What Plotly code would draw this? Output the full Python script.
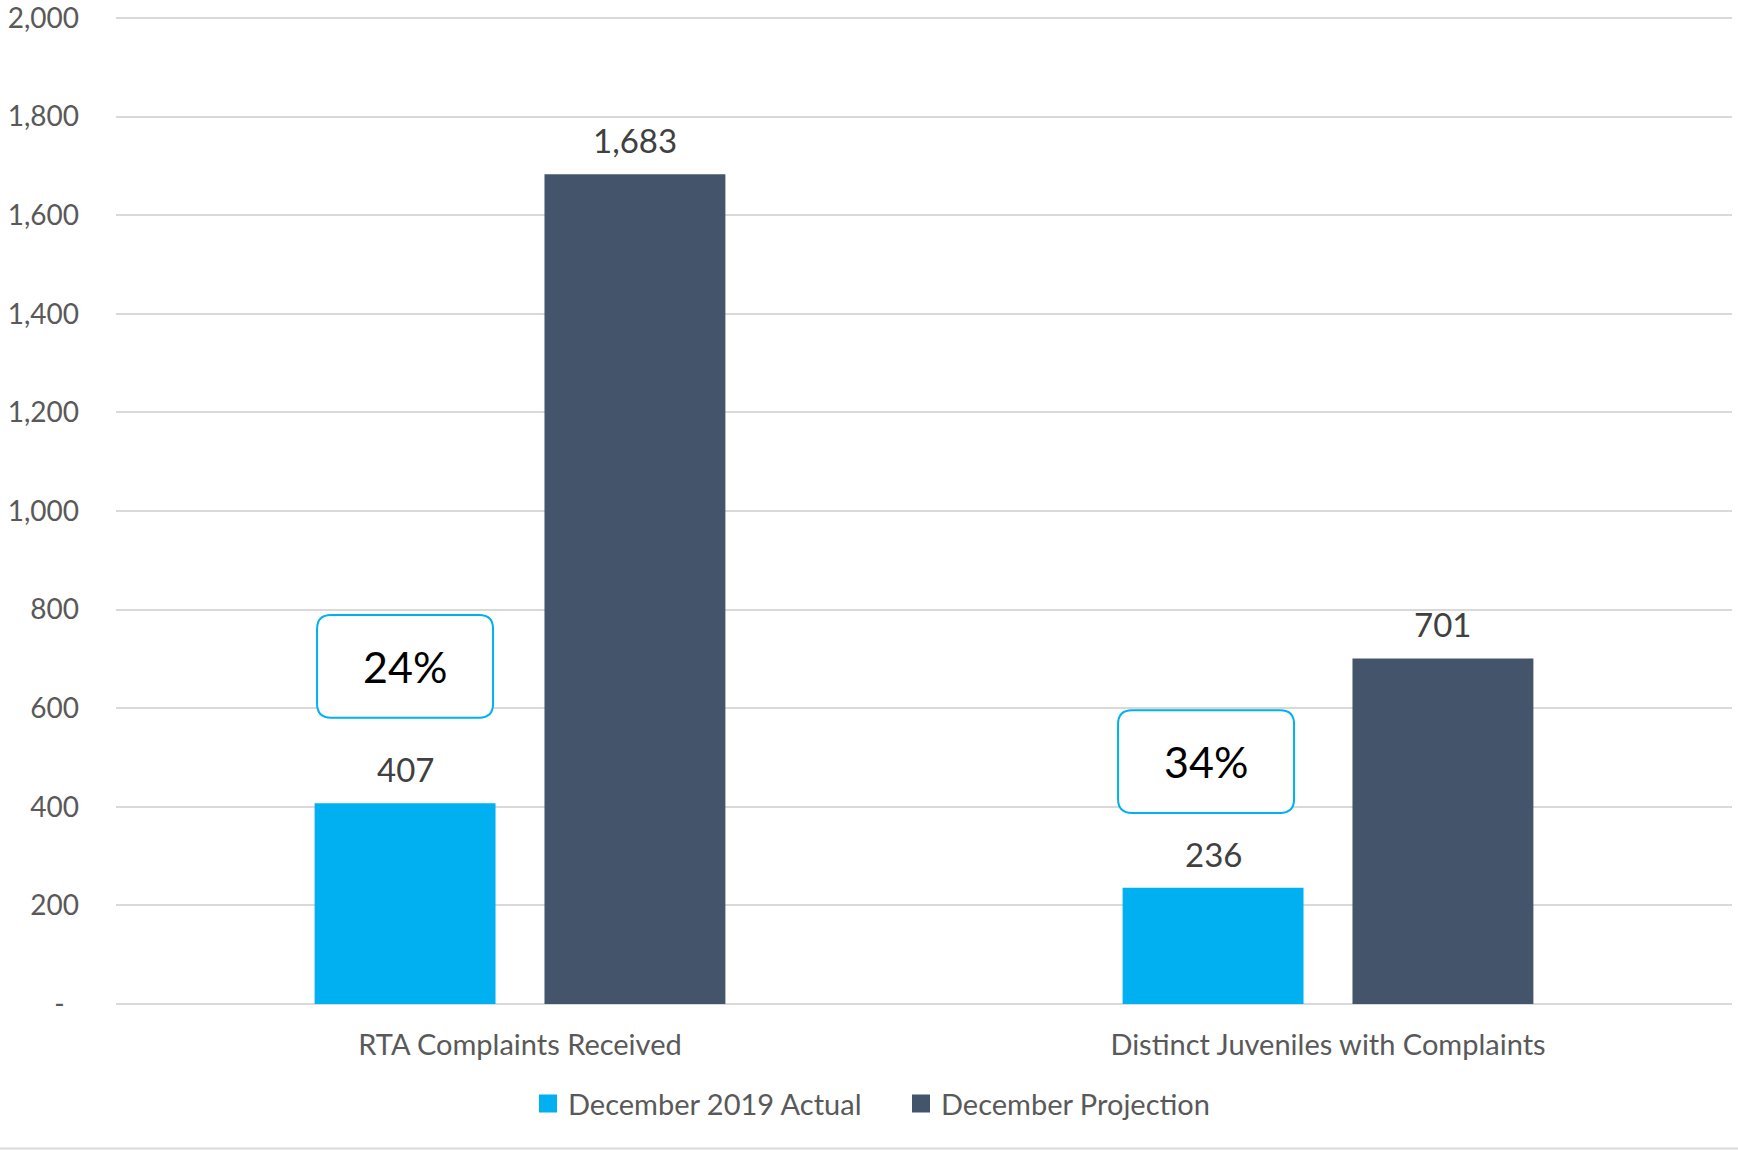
import plotly.graph_objects as go

# ---------------- data ----------------
categories = ["RTA Complaints Received", "Distinct Juveniles with Complaints"]
series_names = ["December 2019 Actual", "December Projection"]
actual_values = [407, 236]
projection_values = [1683, 701]
percent_labels = ["24%", "34%"]
y_tick_values = [0, 200, 400, 600, 800, 1000, 1200, 1400, 1600, 1800, 2000]
y_tick_labels = ["-\u00a0\u00a0", "200", "400", "600", "800", "1,000",
                 "1,200", "1,400", "1,600", "1,800", "2,000"]

# ---------------- layout constants ----------------
W, H = 1738, 1151
ML, MR, MT, MB = 116, 6, 0, 147
PW, PH = W - ML - MR, H - MT - MB
Y_MAX = 2000
Y_SPAN_PX = 990                       # pixels between 0 and 2000
px_y = Y_MAX / Y_SPAN_PX               # data units per pixel (y)
Y_TOP = Y_MAX + (PH - Y_SPAN_PX) * px_y
X_RANGE = [-0.5, 1.5]
px_x = (X_RANGE[1] - X_RANGE[0]) / PW  # data units per pixel (x)
BARGAP = 0.431
BARGROUPGAP = 0.213
COLORS = ["#00B0F0", "#44546A"]
FONT = "Lato, 'Open Sans', sans-serif"
GRID = "#D9D9D9"

# callout box placement (pixel offsets relative to the actual bar)
callout_dx_px = [0, -7]        # horizontal shift of box centre from bar centre
callout_bottom_px = [86, 75]   # gap between bar top and box bottom
CALLOUT_W_PX, CALLOUT_H_PX, CALLOUT_R_PX = 176, 103, 14

x_pos = list(range(len(categories)))
slot = (1 - BARGAP) / 2

fig = go.Figure()
for j, (name, vals) in enumerate(zip(series_names, [actual_values, projection_values])):
    fig.add_trace(go.Bar(
        x=x_pos, y=vals, name=name, marker=dict(color=COLORS[j], line=dict(width=0)),
        showlegend=False, hoverinfo="y",
    ))
    # legend entry with a larger square symbol
    fig.add_trace(go.Scatter(
        x=[None], y=[None], mode="markers", name=name,
        marker=dict(symbol="square", size=16, color=COLORS[j],
                    line=dict(color=COLORS[j], width=2)),
        showlegend=True,
    ))

annotations = []
shapes = []
for j, vals in enumerate([actual_values, projection_values]):
    for i, v in enumerate(vals):
        xc = i + (j - 0.5) * slot
        annotations.append(dict(
            x=xc, y=v, xref="x", yref="y", text=f"{v:,}", showarrow=False,
            yanchor="middle", yshift=34,
            font=dict(family=FONT, size=33, color="#404040"),
        ))

def rounded_rect(x0, y0, x1, y1, rx, ry):
    return (f"M {x0+rx},{y0} L {x1-rx},{y0} Q {x1},{y0} {x1},{y0+ry} "
            f"L {x1},{y1-ry} Q {x1},{y1} {x1-rx},{y1} "
            f"L {x0+rx},{y1} Q {x0},{y1} {x0},{y1-ry} "
            f"L {x0},{y0+ry} Q {x0},{y0} {x0+rx},{y0} Z")

for i, v in enumerate(actual_values):
    xc = i - 0.5 * slot + callout_dx_px[i] * px_x
    y0 = v + callout_bottom_px[i] * px_y
    y1 = y0 + CALLOUT_H_PX * px_y
    x0 = xc - CALLOUT_W_PX / 2 * px_x
    x1 = xc + CALLOUT_W_PX / 2 * px_x
    shapes.append(dict(
        type="path", xref="x", yref="y",
        path=rounded_rect(x0, y0, x1, y1, CALLOUT_R_PX * px_x, CALLOUT_R_PX * px_y),
        line=dict(color="#00B0F0", width=2), fillcolor="white", layer="above",
    ))
    annotations.append(dict(
        x=xc, y=(y0 + y1) / 2, xref="x", yref="y", text=percent_labels[i],
        showarrow=False, xanchor="center", yanchor="middle",
        font=dict(family=FONT, size=43, color="#000000"),
    ))

# chart frame bottom line
shapes.append(dict(
    type="line", xref="paper", yref="paper",
    x0=-ML / PW, x1=1 + MR / PW, y0=-(MB - 2) / PH, y1=-(MB - 2) / PH,
    line=dict(color=GRID, width=2), layer="above",
))

fig.update_layout(
    width=W, height=H,
    margin=dict(l=ML, r=MR, t=MT, b=MB, pad=0),
    paper_bgcolor="white", plot_bgcolor="white",
    barmode="group", bargap=BARGAP, bargroupgap=BARGROUPGAP,
    font=dict(family=FONT, color="#595959"),
    xaxis=dict(
        range=X_RANGE, tickmode="array", tickvals=x_pos, ticktext=categories,
        showgrid=False, zeroline=False, showline=False, ticks="",
        ticklabelstandoff=21,
        tickfont=dict(family=FONT, size=29, color="#595959"),
        fixedrange=True,
    ),
    yaxis=dict(
        range=[0, Y_TOP], tickmode="array", tickvals=y_tick_values, ticktext=y_tick_labels,
        showgrid=True, gridcolor=GRID, gridwidth=2,
        zeroline=True, zerolinecolor=GRID, zerolinewidth=2, showline=False,
        ticks="", ticklabelstandoff=36, ticklabeloverflow="allow",
        tickfont=dict(family=FONT, size=28, color="#595959"),
        fixedrange=True,
    ),
    legend=dict(
        orientation="h", x=(528 - ML) / PW, xanchor="left",
        y=-(1104 - MT - PH) / PH, yanchor="middle",
        entrywidth=328, entrywidthmode="pixels",
        font=dict(family=FONT, size=29, color="#595959"),
        bgcolor="rgba(0,0,0,0)", itemclick=False, itemdoubleclick=False,
    ),
    annotations=annotations,
    shapes=shapes,
    showlegend=True,
)

fig.write_html(
    "out.html",
    config={"displayModeBar": False},
    post_script="document.body.style.margin='0';document.body.style.overflow='hidden';",
)
